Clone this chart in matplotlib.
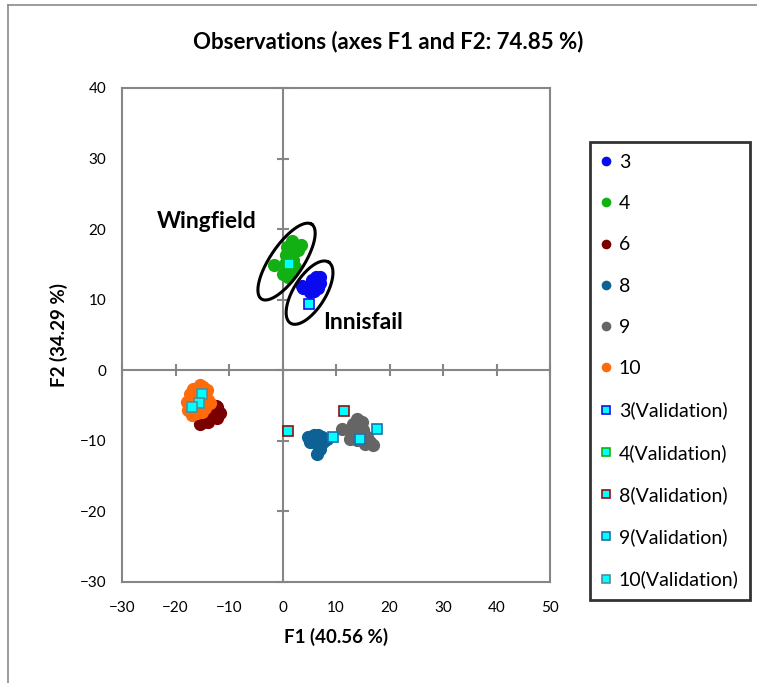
import numpy as np
import matplotlib.pyplot as plt
from matplotlib.lines import Line2D

# observations per class (F1, F2)
x3 = [3.6, 6.3, 7.0, 5.45, 4.5, 5.8, 6.7, 7.0, 5.1, 3.9]
y3 = [12.0, 13.2, 13.2, 12.75, 11.8, 11.3, 11.6, 12.3, 11.1, 11.6]

x4 = [1.7, 3.4, 0.8, 2.95, 0.65, 1.7, 2.0, -1.6, 0.5, 2.3, 0.15, 1.1, 1.4, 0.8]
y4 = [18.3, 17.7, 17.5, 17.0, 16.4, 16.3, 15.6, 14.9, 15.1, 14.6, 13.7, 13.2, 14.2, 15.8]

x6 = [-12.3, -11.7, -12.9, -13.55, -14.8, -15.4, -12.3, -13.9, -12.4]
y6 = [-5.2, -6.1, -5.9, -6.6, -7.3, -7.55, -6.8, -7.3, -5.0]

x8 = [4.8, 5.8, 6.7, 7.3, 8.3, 5.1, 6.4, 7.6, 7.0, 6.4, 5.9]
y8 = [-9.45, -9.2, -9.2, -9.45, -9.7, -10.2, -10.4, -10.2, -11.1, -11.8, -9.9]

x9 = [11.2, 13.9, 13.2, 14.8, 12.9, 12.6, 15.1, 15.7, 16.4, 17.0, 15.4, 13.9, 13.5]
y9 = [-8.3, -6.85, -7.55, -7.3, -8.7, -9.7, -8.5, -9.45, -10.2, -10.6, -10.4, -9.9, -8.0]

x10 = [-15.4, -16.7, -17.3, -17.9, -17.6, -17.0, -16.0, -15.1, -14.8, -14.2,
       -13.9, -13.6, -16.4, -15.7, -14.5]
y10 = [-2.1, -2.6, -3.3, -4.5, -5.7, -6.4, -6.1, -5.9, -2.4, -2.8,
       -4.25, -4.7, -4.7, -4.0, -5.4]

# validation samples
vx3, vy3 = [5.0], [9.45]
vx4, vy4 = [1.2], [15.0]
vx8, vy8 = [1.1, 11.55], [-8.6, -5.75]
vx9, vy9 = [9.5, 14.5, 17.7], [-9.5, -9.7, -8.35]
vx10, vy10 = [-15.0, -15.7, -16.9], [-3.3, -4.7, -5.2]

obs = [("3", x3, y3, "#0a0af0"), ("4", x4, y4, "#12b012"),
       ("6", x6, y6, "#7a0000"), ("8", x8, y8, "#0d6194"),
       ("9", x9, y9, "#656565"), ("10", x10, y10, "#ff6a0a")]
val = [("3(Validation)", vx3, vy3, "#1010f0"), ("4(Validation)", vx4, vy4, "#12b012"),
       ("8(Validation)", vx8, vy8, "#8b1010"), ("9(Validation)", vx9, vy9, "#1a70b0"),
       ("10(Validation)", vx10, vy10, "#4f8f99")]

xticks = np.arange(-30, 51, 10)
yticks = np.arange(-30, 41, 10)

# group ellipses: centre, semi axes (px), tilt, label position
groups = [("Wingfield", (0.75, 15.4), 45, 16.5, 56, (-23.5, 21.1)),
          ("Innisfail", (5.05, 11.0), 36, 16, 58, (7.6, 6.8))]

plt.rcParams['font.family'] = ['Lato', 'DejaVu Sans']

fig = plt.figure(figsize=(7.57, 6.83), dpi=100)
ax = fig.add_axes([0.1612, 0.1479, 0.5654, 0.7233])

frame_c = "#868686"
ax.set_xlim(-30, 50)
ax.set_ylim(-30, 40)
ax.set_xticks(xticks)
ax.set_yticks(yticks)
ax.tick_params(length=0, labelsize=11)
ax.tick_params(axis="x", pad=14)
ax.tick_params(axis="y", pad=11.5)
for s in ax.spines.values():
    s.set_color(frame_c)
    s.set_linewidth(1.5)

# zero lines with crossing ticks
ax.axhline(0, color=frame_c, lw=1.5, zorder=1)
ax.axvline(0, color=frame_c, lw=1.5, zorder=1)
ax.plot(xticks, np.zeros_like(xticks), ls="none", marker="|", ms=9, mew=1.5,
        color=frame_c, zorder=1, clip_on=False)
ax.plot(np.zeros_like(yticks), yticks, ls="none", marker="_", ms=9, mew=1.5,
        color=frame_c, zorder=1, clip_on=False)

handles = []
for lab, xs, ys, c in obs:
    h, = ax.plot(xs, ys, ls="none", marker="o", ms=8.5, color=c, mec=c, label=lab, zorder=3)
    handles.append(h)
for lab, xs, ys, c in val:
    h, = ax.plot(xs, ys, ls="none", marker="s", ms=7.5, mfc="#00ffff", mec=c, mew=1.2,
                 label=lab, zorder=4)
    handles.append(h)

# ellipses drawn in pixel space, converted back to data units
px_x = 0.5654 * 757 / 80
px_y = 0.7233 * 683 / 70
t = np.linspace(0, 2 * np.pi, 200)
for name, (cx, cy), a, b, ang, (tx, ty) in groups:
    th = np.deg2rad(ang)
    ex = a * np.cos(t) * np.cos(th) - b * np.sin(t) * np.sin(th)
    ey = a * np.cos(t) * np.sin(th) + b * np.sin(t) * np.cos(th)
    ax.plot(cx + ex / px_x, cy + ey / px_y, color="black", lw=2.2, zorder=5)
    ax.text(tx, ty, name, fontsize=16.5, fontweight="bold", ha="left", va="center")

fig.text(388 / 757, 1 - 42 / 683, "Observations (axes F1 and F2: 74.85 %)", fontsize=16,
         fontweight="bold", ha="center", va="center")
ax.set_xlabel("F1 (40.56 %)", fontsize=13.5, fontweight="bold", labelpad=9)
ax.set_ylabel("F2 (34.29 %)", fontsize=13.5, fontweight="bold", labelpad=8.5)

leg = fig.legend(handles=handles, loc="upper left", bbox_to_anchor=(0.779, 0.792),
                 frameon=True, fancybox=False, fontsize=14, labelspacing=1.25,
                 handlelength=0.5, handletextpad=0.4, borderpad=0.6,
                 markerscale=0.7, borderaxespad=0)
leg.get_frame().set_edgecolor("black")
leg.get_frame().set_linewidth(2)

# outer chart border (top and left only visible)
fig.add_artist(Line2D([8 / 757, 1], [1 - 5 / 683, 1 - 5 / 683], color="#8a8a8a", lw=1.2,
                      transform=fig.transFigure))
fig.add_artist(Line2D([8 / 757, 8 / 757], [0, 1 - 5 / 683], color="#8a8a8a", lw=1.2,
                      transform=fig.transFigure))

fig.savefig("out.png", dpi=100)
